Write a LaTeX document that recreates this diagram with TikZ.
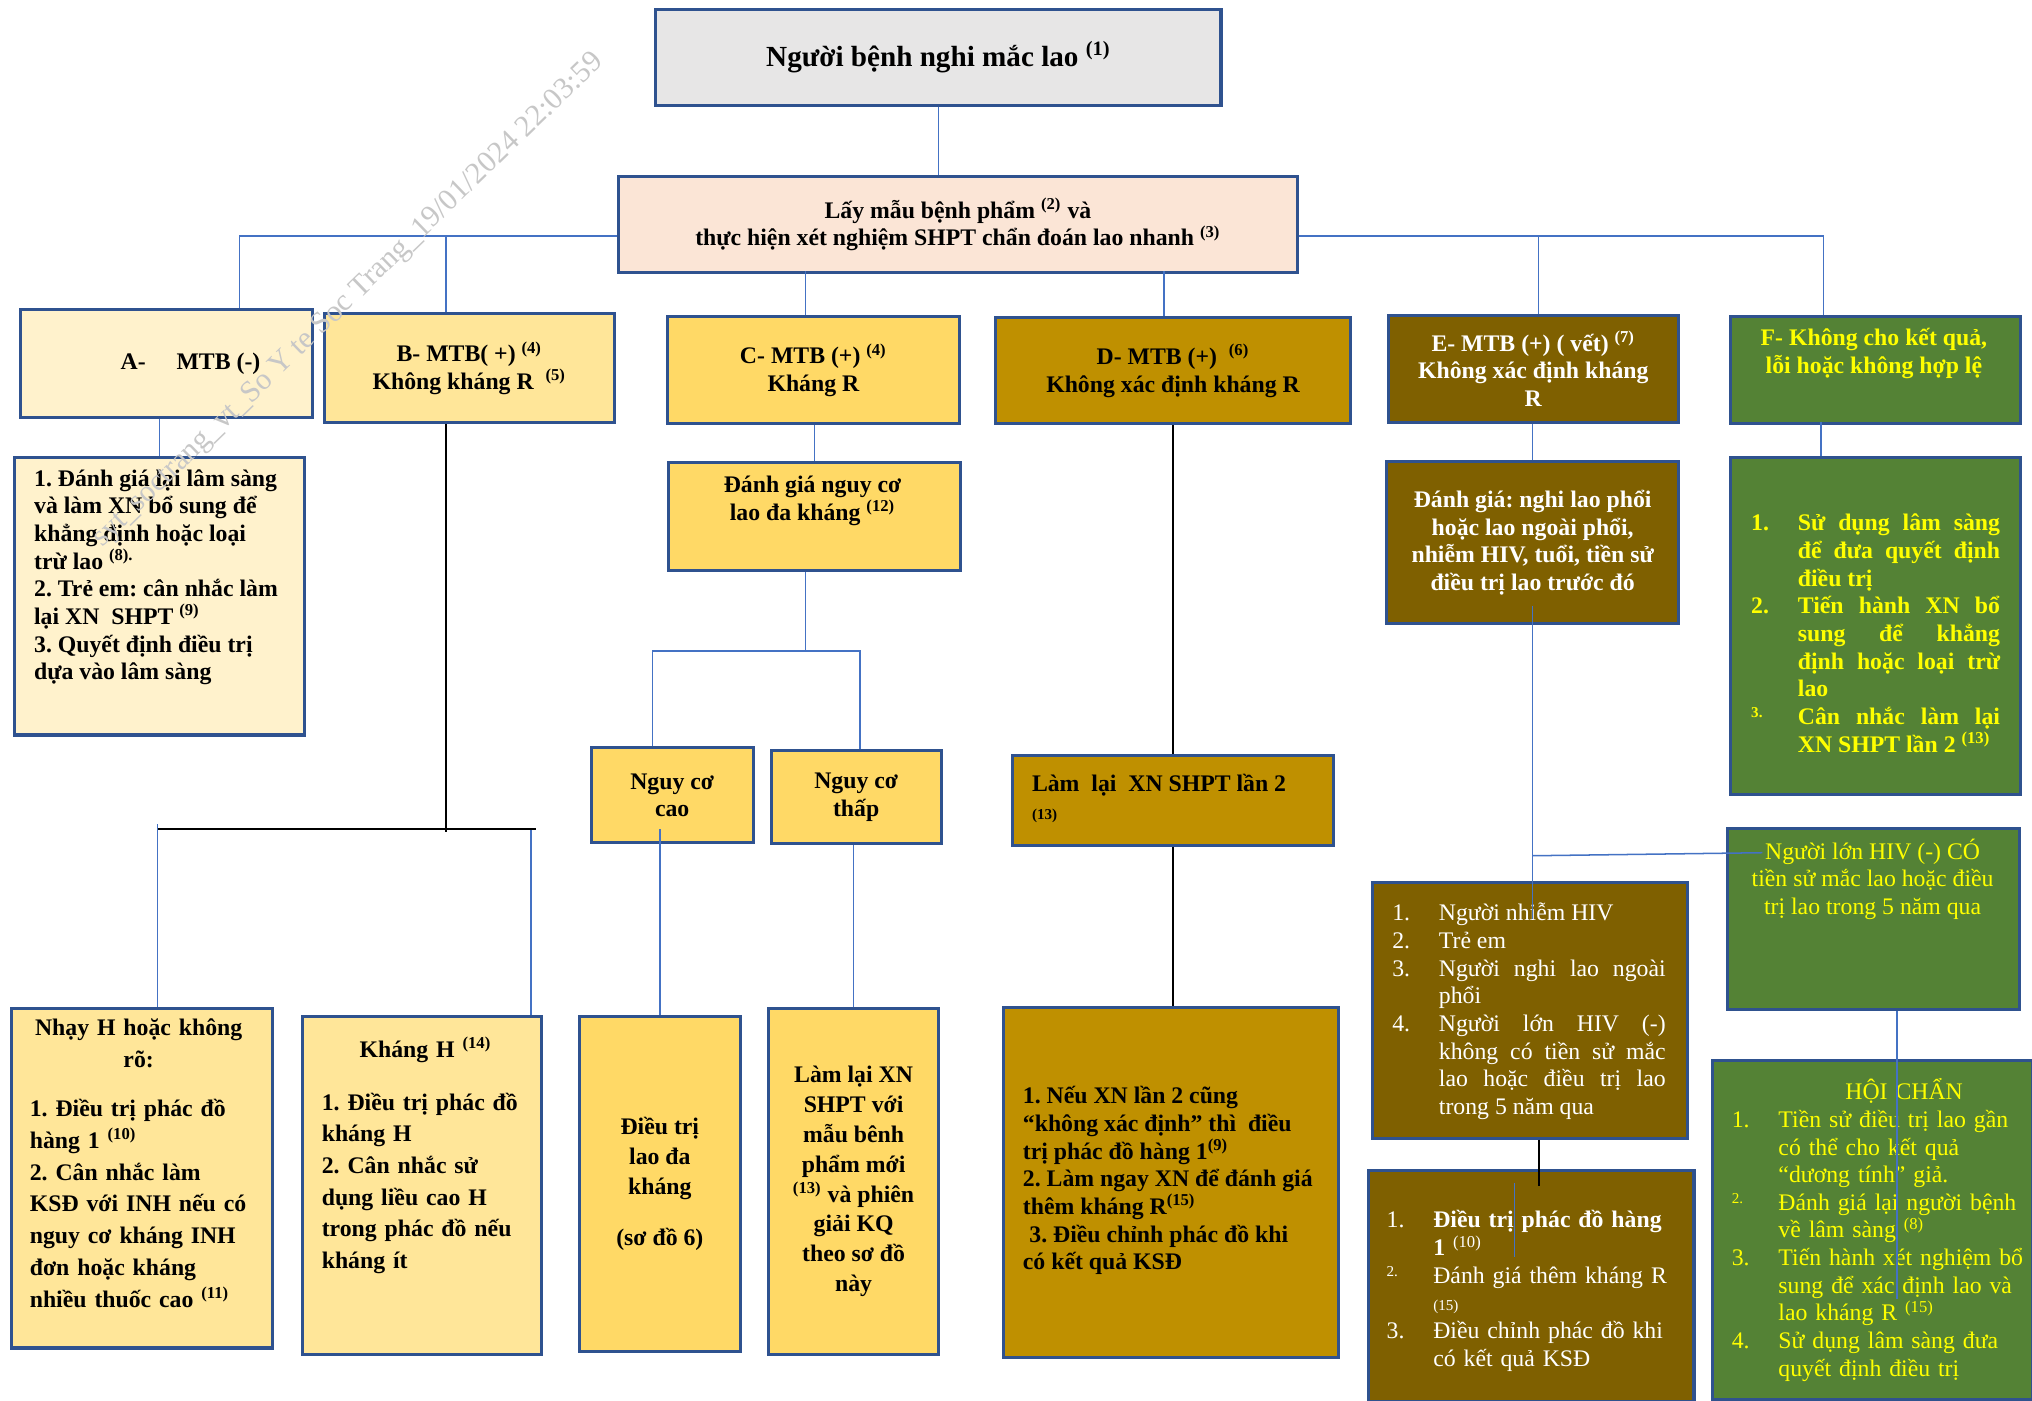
\documentclass[tikz,border=0pt]{standalone}
\usepackage{fontspec}
\setmainfont{Liberation Serif}
\usetikzlibrary{positioning,calc}
\definecolor{cBord}{HTML}{2F528F}
\definecolor{cWire}{HTML}{4472C4}
\definecolor{cTop}{HTML}{E7E6E6}
\definecolor{cLay}{HTML}{FBE5D6}
\definecolor{cA}{HTML}{FFF2CC}
\definecolor{cB}{HTML}{FFE699}
\definecolor{cC}{HTML}{FFD966}
\definecolor{cD}{HTML}{BF9000}
\definecolor{cE}{HTML}{7F6000}
\definecolor{cF}{HTML}{548235}
\definecolor{cYel}{HTML}{FFFF00}
\frenchspacing
\newcommand\supn[1]{\textsuperscript{(#1)}}
\newcommand\smn[1]{\raisebox{3pt}{\scriptsize #1}}
\newlength\hind
\setlength\hind{21.6pt}
\newcommand\litem[2]{\par\noindent\hangindent\hind\hangafter=1 \makebox[\hind][l]{#1}#2\par}
\begin{document}
\begin{tikzpicture}[x=0.6pt,y=-0.6pt,
	box/.style={draw=cBord,line width=1.4pt,anchor=north west,inner sep=0pt,align=center,
		font=\bfseries\fontsize{11}{12.8}\selectfont},
	wh/.style 2 args={minimum width=#1*0.6pt,minimum height=#2*0.6pt},
	txt/.style={inner sep=0pt,anchor=north,align=center,font=\bfseries\fontsize{11}{12.8}\selectfont},
	wire/.style={cWire,line width=0.7pt},
	dark/.style={black,line width=0.9pt},
	wmark/.style={rotate=44,text=black!22,inner sep=0pt,font=\fontsize{14}{14}\selectfont}]
\fill[white] (0,0) rectangle (1568,1081);
\useasboundingbox (0,0) rectangle (1568,1081);
\node[box,wh={436}{74},fill=cTop,font=\bfseries\fontsize{13.5}{15}\selectfont] (top) at (505,6) {Người bệnh nghi mắc lao \supn{1}};
\node[box,wh={524}{74},fill=cLay] (lay) at (476,135) {Lấy mẫu bệnh phẩm \supn{2} và\\thực hiện xét nghiệm SHPT chẩn đoán lao nhanh \supn{3}};
\node[box,wh={225}{83},fill=cA] (A) at (15,238) {\hspace*{22pt}A-\hspace{1.3em}MTB (-)};
\node[box,wh={224}{84},fill=cB] (B) at (249,241) {B- MTB( +) \supn{4}\\Không kháng R \ \supn{5}};
\node[box,wh={225}{83},fill=cC] (C) at (514,243) {C- MTB (+) \supn{4}\\Kháng R};
\node[box,wh={274}{82},fill=cD] (D) at (767,244) {D- MTB (+) \ \supn{6}\\Không xác định kháng R};
\node[box,wh={224}{83},fill=cE,text=white] (E) at (1070,242) {E- MTB (+) ( vết) \supn{7}\\Không xác định kháng\\R};
\node[box,wh={224}{83},fill=cF] (F) at (1334,243) {};
\node[txt,text=cYel] (F text) at (1446,253) {F- Không cho kết quả,\\lỗi hoặc không hợp lệ};
\node[box,wh={224}{214},fill=cA] (A2) at (10,352) {};
\node[txt,anchor=north west,align=left] (A2 text) at (26,362) {1. Đánh giá lại lâm sàng\\và làm XN bổ sung để\\khẳng định hoặc loại\\trừ lao \textsuperscript{(8).}\\2. Trẻ em: cân nhắc làm\\lại XN \ SHPT \supn{9}\\3. Quyết định điều trị\\dựa vào lâm sàng};
\node[box,wh={225}{83},fill=cC] (C2) at (515,356) {};
\node[txt] (C2 text) at (627,367) {Đánh giá nguy cơ\\lao đa kháng \supn{12}};
\node[box,wh={225}{125},fill=cE,text=white] (E2) at (1069,355) {Đánh giá: nghi lao phổi\\hoặc lao ngoài phổi,\\nhiễm HIV, tuổi, tiền sử\\điều trị lao trước đó};
\node[box,wh={224}{260},fill=cF] (F2) at (1334,352) {};
\node[txt,anchor=north west,align=justify,text width=115.2pt,text=cYel] (F2 text) at (1351,388) {\litem{1.}{Sử dụng lâm sàng\linebreak để đưa quyết định\linebreak điều trị}\litem{2.}{Tiến hành XN bổ\linebreak sung để khẳng\linebreak định hoặc loại trừ\linebreak lao}\litem{\smn{3.}}{Cân nhắc làm lại\linebreak XN SHPT lần 2 \supn{13}}};
\node[box,wh={125}{73},fill=cC] (NCc) at (455,576) {Nguy cơ\\cao};
\node[box,wh={131}{72},fill=cC] (NCt) at (594,578) {Nguy cơ\\thấp};
\node[box,wh={248}{69},fill=cD] (Dlai) at (780,582) {};
\node[txt,anchor=north west,align=left] (Dlai text) at (796,597) {Làm \ lại \ XN SHPT lần 2\\{\scriptsize(13)}};
\node[box,wh={243}{197},fill=cE] (E3) at (1058,680) {};
\node[txt,anchor=north west,align=justify,text width=126.6pt,text=white,font=\fontsize{11}{12.8}\selectfont] (E3 text) at (1074,689) {\litem{1.}{Người nhiễm HIV}\litem{2.}{Trẻ em}\litem{3.}{Người nghi lao ngoài\linebreak phổi}\litem{4.}{Người lớn HIV (-)\linebreak không có tiền sử mắc\linebreak lao hoặc điều trị lao\linebreak trong 5 năm qua}};
\node[box,wh={225}{140},fill=cF] (F3) at (1332,638) {};
\node[txt,text=cYel,font=\fontsize{11}{12.8}\selectfont] (F3 text) at (1445,647) {Người lớn HIV (-) CÓ\\tiền sử mắc lao hoặc điều\\trị lao trong 5 năm qua};
\node[box,wh={247}{262},fill=cF] (F4) at (1320,817) {};
\node[txt,anchor=north west,align=left,text width=138pt,text=cYel,font=\fontsize{11}{12.8}\selectfont] (F4 text) at (1336,832) {{\centering\hspace*{\hind}HỘI CHẨN\par}\litem{1.}{Tiền sử điều trị lao gần\newline có thể cho kết quả\newline “dương tính” giả.}\litem{\smn{2.}}{Đánh giá lại người bệnh\newline về lâm sàng \supn{8}}\litem{3.}{Tiến hành xét nghiệm bổ\newline sung để xác định lao và\newline lao kháng R \supn{15}}\litem{4.}{Sử dụng lâm sàng đưa\newline quyết định điều trị}};
\node[box,wh={251}{178},fill=cE,text=white,text width=134pt,align=left,font=\fontsize{11}{12.8}\selectfont] (E4) at (1055,902) {\litem{1.}{\textbf{Điều trị phác đồ hàng\newline 1} \supn{10}}\litem{\smn{2.}}{Đánh giá thêm kháng R\newline {\scriptsize(15)}}\litem{3.}{Điều chỉnh phác đồ khi\newline có kết quả KSĐ}};
\node[box,wh={201}{262},fill=cB] (B3a) at (8,777) {};
\node[txt,text width=100.8pt,align=left,font=\bfseries\fontsize{11}{14.7}\selectfont] (B3a text) at (107,786) {{\centering Nhạy H hoặc không\\rõ:\par}\vspace{8pt}1. Điều trị phác đồ\\hàng 1 \supn{10}\\2. Cân nhắc làm\\KSĐ với INH nếu có\\nguy cơ kháng INH\\đơn hoặc kháng\\nhiều thuốc cao \supn{11}};
\node[box,wh={185}{261},fill=cB] (B3b) at (232,783) {};
\node[txt,anchor=north west,text width=96pt,align=left,font=\bfseries\fontsize{11}{14.6}\selectfont] (B3b text) at (248,800) {{\centering Kháng H \supn{14}\par}\vspace{10pt}1. Điều trị phác đồ\\kháng H\\2. Cân nhắc sử\\dụng liều cao H\\trong phác đồ nếu\\kháng ít};
\node[box,wh={124}{259},fill=cC,font=\bfseries\fontsize{11}{13.8}\selectfont] (C3a) at (446,783) {Điều trị\\lao đa\\kháng\\[10pt](sơ đồ 6)};
\node[box,wh={131}{267},fill=cC,font=\bfseries\fontsize{11}{13.8}\selectfont] (C3b) at (592,777) {Làm lại XN\\SHPT với\\mẫu bênh\\phẩm mới\\\supn{13} và phiên\\giải KQ\\theo sơ đồ\\này};
\node[box,wh={259}{270},fill=cD] (D3) at (773,776) {};
\node[txt,anchor=west,align=left] (D3 text) at (789,911) {1. Nếu XN lần 2 cũng\\“không xác định” thì \ điều\\trị phác đồ hàng 1\supn{9}\\2. Làm ngay XN để đánh giá\\thêm kháng R\supn{15}\\\hspace*{3pt}3. Điều chỉnh phác đồ khi\\có kết quả KSĐ};
\draw[wire] (top.south) -- (top.south |- lay.north);
\draw[wire] ($(lay.west)+(0,9)$) -| ($(A.north)+(56,0)$);
\draw[wire] ($(B.north)+(-18,0)$) -- ++(0,-60);
\draw[wire] ($(lay.east)+(0,9)$) -| ($(F.north)+(-40,0)$);
\draw[wire] ($(E.north)+(4,0)$) -- ++(0,-61);
\draw[wire] ($(C.north)+(-6,0)$) -- ++(0,-34);
\draw[wire] ($(D.north)+(-7,0)$) -- ++(0,-35);
\draw[wire] (A2.north) -- (A2.north |- A.south);
\draw[wire] (C2.north) -- (C2.north |- C.south);
\draw[wire] (E2.north) -- (E2.north |- E.south);
\draw[wire] ($(F2.north)+(-42,0)$) -- ++(0,-26);
\draw[wire] ($(C2.south)+(-7,0)$) -- ++(0,61) coordinate (cfork);
\draw[wire] ($(NCc.north)+(-15,0)$) |- (cfork) -| ($(NCt.north)+(3,0)$);
\draw[wire] (C3a.north) -- ++(0,-143);
\draw[wire] (C3b.north) -- ++(0,-125);
\draw[dark] ($(B.south)+(-18,0)$) -- ++(0,315);
\draw[wire] ($(B3a.north)+(12,0)$) -- ++(0,-141) coordinate (bl);
\draw[wire] ($(B3b.north)+(84,0)$) -- ++(0,-143) coordinate (br);
\draw[dark] (bl |- br) -- ($(br)+(4,0)$);
\draw[dark] (D) -- (Dlai);
\draw[dark] (Dlai.south) -- (Dlai.south |- D3.north);
\draw[wire] ($(E2.south)+(0,-15)$) -- ++(0,242);
\draw[wire] ($(E2.south)+(0,178)$) -- ($(F3.north west)+(28,20)$);
\draw[dark] ($(E3.south)+(7,0)$) -- ++(0,36);
\draw[wire] ($(E4.north)+(-13,11)$) -- ++(0,57);
\draw[wire] ($(F3.south)+(18,0)$) -- ++(0,222);
\node[wmark] (wm) at (269,232) {syt\_soctrang\_vt\_So Y te Soc Trang\_19/01/2024 22:03:59};
\end{tikzpicture}
\end{document}
